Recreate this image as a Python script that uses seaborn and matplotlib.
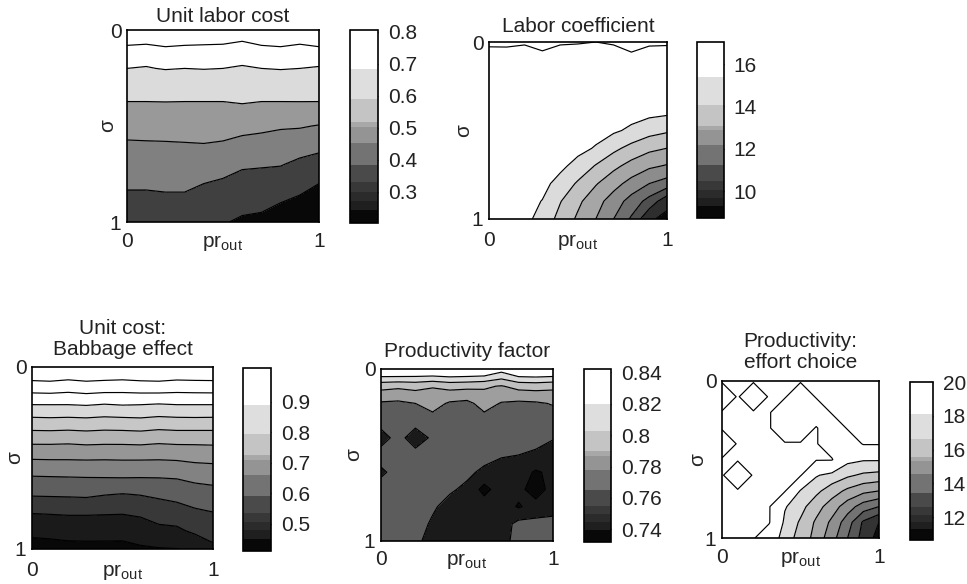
import numpy as np
import matplotlib
matplotlib.use("Agg")
import matplotlib.pyplot as plt
import seaborn as sns
from matplotlib.colors import ListedColormap, BoundaryNorm
from matplotlib.cm import ScalarMappable

# ---------------- data ----------------
pr_out = [0.0, 0.1, 0.2, 0.3, 0.4, 0.5, 0.6, 0.7, 0.8, 0.9, 1.0]
sigma = [0.0, 0.1, 0.2, 0.3, 0.4, 0.5, 0.6, 0.7, 0.8, 0.9, 1.0]

# rows: sigma = 0 ... 1 ; columns: pr_out = 0 ... 1
unit_labor_cost = [
    [0.790, 0.790, 0.790, 0.790, 0.790, 0.790, 0.790, 0.790, 0.790, 0.790, 0.790],
    [0.740, 0.736, 0.744, 0.740, 0.738, 0.736, 0.722, 0.740, 0.744, 0.736, 0.744],
    [0.700, 0.696, 0.704, 0.700, 0.703, 0.700, 0.696, 0.700, 0.704, 0.700, 0.695],
    [0.640, 0.640, 0.641, 0.640, 0.640, 0.640, 0.642, 0.640, 0.640, 0.641, 0.640],
    [0.585, 0.585, 0.586, 0.585, 0.585, 0.585, 0.592, 0.585, 0.585, 0.585, 0.585],
    [0.540, 0.540, 0.540, 0.540, 0.540, 0.535, 0.525, 0.520, 0.510, 0.508, 0.495],
    [0.485, 0.488, 0.490, 0.493, 0.496, 0.490, 0.475, 0.465, 0.455, 0.440, 0.420],
    [0.450, 0.452, 0.455, 0.455, 0.450, 0.440, 0.415, 0.410, 0.405, 0.380, 0.370],
    [0.410, 0.410, 0.412, 0.412, 0.400, 0.385, 0.360, 0.355, 0.350, 0.330, 0.300],
    [0.380, 0.380, 0.385, 0.385, 0.365, 0.345, 0.320, 0.315, 0.300, 0.280, 0.260],
    [0.350, 0.350, 0.355, 0.355, 0.330, 0.305, 0.290, 0.285, 0.270, 0.250, 0.230],
]

labor_coefficient = [
    [17.03, 17.04, 17.02, 17.03, 17.02, 17.01, 17.00, 17.02, 17.04, 17.03, 17.02],
    [16.92, 16.90, 16.90, 16.97, 16.90, 16.92, 16.90, 16.90, 16.97, 16.90, 16.92],
    [16.85, 16.85, 16.84, 16.83, 16.82, 16.80, 16.78, 16.75, 16.70, 16.65, 16.60],
    [16.80, 16.80, 16.78, 16.76, 16.74, 16.70, 16.65, 16.60, 16.50, 16.45, 16.40],
    [16.75, 16.75, 16.72, 16.70, 16.65, 16.60, 16.55, 16.45, 16.35, 16.25, 16.15],
    [16.70, 16.70, 16.66, 16.62, 16.55, 16.45, 16.30, 16.15, 15.82, 15.38, 15.14],
    [16.65, 16.65, 16.60, 16.55, 16.45, 16.25, 15.93, 15.25, 14.68, 14.24, 14.00],
    [16.60, 16.60, 16.55, 16.45, 16.20, 15.70, 14.93, 14.25, 13.66, 13.18, 12.92],
    [16.55, 16.50, 16.40, 16.25, 15.70, 14.85, 14.08, 13.36, 12.65, 12.00, 11.56],
    [16.50, 16.45, 16.30, 15.97, 15.05, 14.20, 13.38, 12.53, 11.60, 10.64, 9.30],
    [16.45, 16.40, 16.30, 15.61, 14.69, 13.83, 13.00, 12.00, 10.86, 9.15, 8.73],
]

unit_cost_babbage = [
    [1.000, 1.000, 1.000, 1.000, 1.000, 1.000, 1.000, 1.000, 1.000, 1.000, 1.000],
    [0.933, 0.936, 0.929, 0.936, 0.932, 0.929, 0.934, 0.936, 0.930, 0.932, 0.933],
    [0.855, 0.855, 0.855, 0.858, 0.853, 0.857, 0.855, 0.852, 0.855, 0.855, 0.855],
    [0.783, 0.785, 0.783, 0.785, 0.781, 0.783, 0.786, 0.780, 0.783, 0.784, 0.783],
    [0.715, 0.715, 0.713, 0.717, 0.715, 0.715, 0.717, 0.712, 0.715, 0.714, 0.715],
    [0.654, 0.655, 0.655, 0.656, 0.655, 0.656, 0.656, 0.655, 0.657, 0.662, 0.664],
    [0.600, 0.601, 0.602, 0.603, 0.604, 0.605, 0.604, 0.604, 0.606, 0.615, 0.619],
    [0.555, 0.556, 0.557, 0.559, 0.552, 0.548, 0.552, 0.560, 0.565, 0.575, 0.581],
    [0.502, 0.504, 0.506, 0.506, 0.505, 0.504, 0.510, 0.518, 0.530, 0.542, 0.549],
    [0.462, 0.462, 0.466, 0.466, 0.463, 0.460, 0.470, 0.490, 0.490, 0.510, 0.519],
    [0.430, 0.435, 0.437, 0.438, 0.440, 0.442, 0.445, 0.447, 0.449, 0.455, 0.490],
]

productivity_factor = [
    [0.835, 0.836, 0.834, 0.835, 0.836, 0.835, 0.834, 0.822, 0.835, 0.836, 0.835],
    [0.790, 0.788, 0.790, 0.786, 0.790, 0.789, 0.787, 0.784, 0.790, 0.791, 0.789],
    [0.768, 0.767, 0.770, 0.776, 0.768, 0.766, 0.776, 0.769, 0.767, 0.768, 0.771],
    [0.762, 0.763, 0.762, 0.764, 0.764, 0.764, 0.764, 0.763, 0.764, 0.763, 0.763],
    [0.748, 0.761, 0.746, 0.758, 0.762, 0.763, 0.763, 0.762, 0.762, 0.761, 0.756],
    [0.762, 0.762, 0.761, 0.761, 0.762, 0.762, 0.760, 0.756, 0.755, 0.752, 0.748],
    [0.752, 0.761, 0.761, 0.762, 0.761, 0.758, 0.752, 0.750, 0.749, 0.744, 0.747],
    [0.762, 0.762, 0.762, 0.761, 0.757, 0.752, 0.742, 0.750, 0.748, 0.740, 0.749],
    [0.763, 0.762, 0.762, 0.757, 0.750, 0.749, 0.750, 0.750, 0.744, 0.749, 0.750],
    [0.763, 0.762, 0.761, 0.753, 0.750, 0.749, 0.750, 0.750, 0.758, 0.758, 0.759],
    [0.763, 0.762, 0.758, 0.750, 0.749, 0.750, 0.749, 0.752, 0.758, 0.759, 0.760],
]

effort_choice = [
    [20.0, 20.0, 20.0, 20.0, 20.0, 20.0, 20.0, 20.0, 20.0, 20.0, 20.0],
    [19.0, 20.0, 19.0, 20.0, 20.0, 19.0, 20.0, 20.0, 20.0, 20.0, 20.0],
    [20.0, 20.0, 20.0, 20.0, 19.0, 19.0, 19.0, 20.0, 20.0, 20.0, 20.0],
    [20.0, 20.0, 20.0, 20.0, 19.0, 19.0, 20.0, 19.0, 20.0, 20.0, 20.0],
    [19.0, 20.0, 20.0, 20.0, 20.0, 20.0, 20.0, 19.0, 19.0, 20.0, 20.0],
    [20.0, 20.0, 20.0, 20.0, 20.0, 20.0, 20.0, 20.0, 18.3, 18.1, 18.1],
    [20.0, 19.0, 20.0, 20.0, 20.0, 20.0, 18.1, 17.65, 17.17, 16.83, 16.7],
    [20.0, 20.0, 20.0, 20.0, 20.0, 17.9, 17.25, 16.48, 15.78, 15.26, 15.0],
    [20.0, 20.0, 20.0, 20.0, 18.1, 17.33, 16.4, 15.5, 14.47, 13.53, 13.0],
    [20.0, 20.0, 20.0, 20.0, 17.76, 16.87, 15.84, 14.78, 13.46, 11.85, 11.0],
    [20.0, 20.0, 20.0, 19.0, 17.4, 16.7, 15.6, 14.4, 13.0, 11.6, 10.64],
]

titles = ["Unit labor cost", "Labor coefficient", "Unit cost:\nBabbage effect",
          "Productivity factor", "Productivity:\neffort choice"]
colorbar_ranges = [(0.203, 0.806), (8.73, 17.04), (0.41, 1.01), (0.732, 0.842), (10.64, 20.0)]
colorbar_ticks = [[0.3, 0.4, 0.5, 0.6, 0.7, 0.8], [10, 12, 14, 16], [0.5, 0.6, 0.7, 0.8, 0.9],
                  [0.74, 0.76, 0.78, 0.80, 0.82, 0.84], [12, 14, 16, 18, 20]]
colorbar_ticklabels = [["0.3", "0.4", "0.5", "0.6", "0.7", "0.8"], ["10", "12", "14", "16"],
                       ["0.5", "0.6", "0.7", "0.8", "0.9"],
                       ["0.74", "0.76", "0.78", "0.8", "0.82", "0.84"], ["12", "14", "16", "18", "20"]]
contour_levels = [
    [0.2, 0.3, 0.4, 0.5, 0.6, 0.7, 0.75, 0.81],
    [8.7, 9, 10, 11, 12, 13, 14, 15, 16, 17, 17.1],
    [0.40, 0.45, 0.50, 0.55, 0.60, 0.65, 0.70, 0.75, 0.80, 0.85, 0.90, 0.95, 1.02],
    [0.73, 0.745, 0.755, 0.77, 0.785, 0.80, 0.815, 0.845],
    [10.6, 11, 12, 13, 14, 15, 16, 17, 18, 19.9, 20.1],
]

# ---------------- styles ----------------
fill_grays = [
    [0.03, 0.25, 0.50, 0.60, 0.86, 1.0, 1.0],
    [0.03, 0.18, 0.31, 0.43, 0.55, 0.65, 0.76, 0.86, 1.0, 1.0],
    [0.03, 0.10, 0.22, 0.37, 0.51, 0.59, 0.70, 0.78, 0.85, 1.0, 1.0, 1.0],
    [0.03, 0.10, 0.36, 0.62, 0.75, 0.86, 1.0],
    [0.05, 0.20, 0.34, 0.45, 0.56, 0.66, 0.76, 0.86, 1.0, 1.0],
]
# shared colormap of the colour bars (fractions of the range, bottom to top)
cbar_fracs = [0.0, 0.068, 0.115, 0.16, 0.21, 0.30, 0.415, 0.50, 0.525, 0.642, 0.80, 1.0]
cbar_grays = [0.03, 0.12, 0.17, 0.22, 0.29, 0.45, 0.58, 0.66, 0.77, 0.87, 1.0]

W, H = 967, 584
ax_px = [(127, 30, 319, 222), (489, 42, 667, 219), (32, 367, 213, 549),
         (381, 369, 553, 541), (722, 381, 879, 538)]
cax_px = [(350, 30, 378, 223), (697, 42, 724, 218), (243, 368, 271, 551),
          (584, 369, 611, 542), (910, 382, 933, 540)]
ylabel_off_px = [10, 16, 8, 18, 15]
title_pad_px = [8, 10, 12, 12, 13]
xtick_pad_px = [10, 12, 12, 9, 10]

sns.set_theme(style="white", rc={"axes.edgecolor": "black", "axes.linewidth": 1.2})
plt.rcParams["font.family"] = ["Liberation Sans", "DejaVu Sans"]
plt.rcParams["mathtext.fontset"] = "custom"
plt.rcParams["mathtext.rm"] = "Liberation Sans"
plt.rcParams["mathtext.it"] = "Liberation Sans:italic"
plt.rcParams["text.color"] = "#222222"
FS = 15

fig = plt.figure(figsize=(W / 100, H / 100), dpi=100)


def frac_box(b):
    x0, y0, x1, y1 = b
    return [x0 / W, 1 - y1 / H, (x1 - x0) / W, (y1 - y0) / H]


grids = [unit_labor_cost, labor_coefficient, unit_cost_babbage, productivity_factor, effort_choice]

for i in range(5):
    Z = np.array(grids[i])
    lev = contour_levels[i]
    ax = fig.add_axes(frac_box(ax_px[i]))
    ax.contourf(pr_out, sigma, Z, levels=lev, colors=[str(g) for g in fill_grays[i]])
    ax.contour(pr_out, sigma, Z, levels=lev[1:-1], colors="black", linewidths=0.85)
    ax.set_xlim(0, 1)
    ax.set_ylim(1, 0)
    ax.set_xticks([0, 1])
    ax.set_xticklabels(["0", "1"])
    ax.set_yticks([0, 1])
    ax.set_yticklabels(["0", "1"])
    axw = ax_px[i][2] - ax_px[i][0]
    axh = ax_px[i][3] - ax_px[i][1]
    ax.tick_params(axis="x", length=0, labelsize=FS, pad=xtick_pad_px[i] * 0.72, colors="#222222")
    ax.tick_params(axis="y", length=0, labelsize=FS, pad=4, colors="#222222")
    for s in ax.spines.values():
        s.set_color("black")
        s.set_linewidth(1.2)
    ax.set_title(titles[i], fontsize=FS, pad=title_pad_px[i] * 0.72, linespacing=1.15)
    ax.set_xlabel(r"pr$_{\mathrm{out}}$", fontsize=FS)
    ax.xaxis.set_label_coords(0.5, -(xtick_pad_px[i] + 1) / axh)
    ax.set_ylabel("σ", fontsize=FS)
    ax.yaxis.set_label_coords(-ylabel_off_px[i] / axw, 0.5)

    # colour bar
    vmin, vmax = colorbar_ranges[i]
    bounds = [vmin + f * (vmax - vmin) for f in cbar_fracs]
    cmap = ListedColormap([str(g) for g in cbar_grays])
    norm = BoundaryNorm(bounds, cmap.N)
    sm = ScalarMappable(norm=norm, cmap=cmap)
    cax = fig.add_axes(frac_box(cax_px[i]))
    cb = fig.colorbar(sm, cax=cax, spacing="proportional", ticks=colorbar_ticks[i])
    cb.set_ticklabels(colorbar_ticklabels[i])
    cb.outline.set_edgecolor("black")
    cb.outline.set_linewidth(1.2)
    cax.set_ylim(vmin, vmax)
    cax.tick_params(axis="y", direction="in", length=3, width=1, color="black",
                    left=True, right=True, labelleft=False, labelright=True,
                    labelsize=FS, pad=7, labelcolor="#222222")
    cax.minorticks_off()

fig.savefig("out.png", dpi=100, facecolor="white")
